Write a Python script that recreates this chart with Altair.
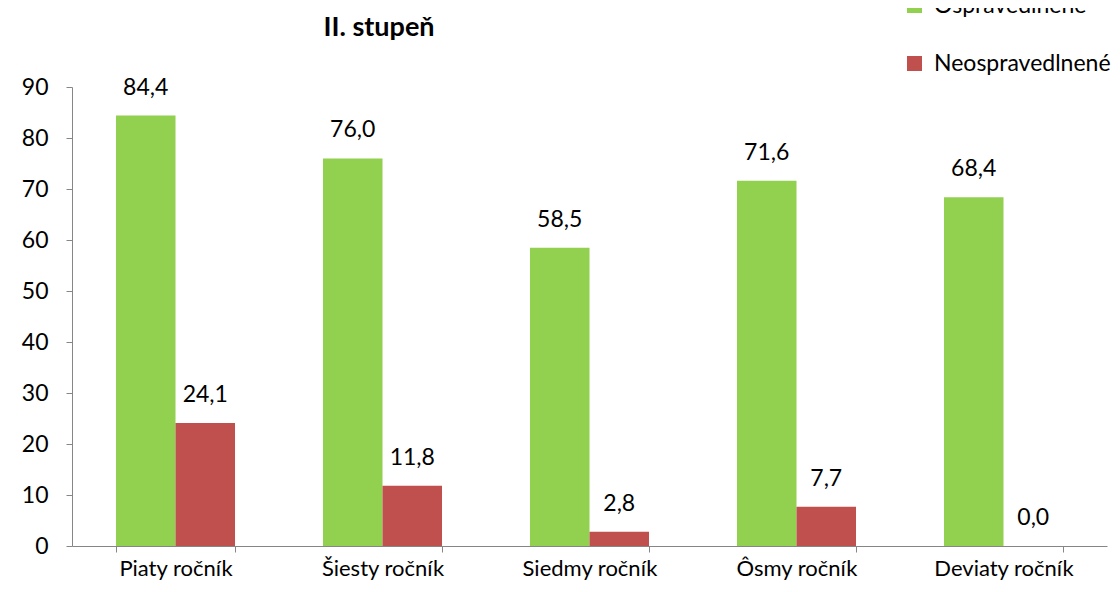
import altair as alt
import pandas as pd

categories = ["Piaty ročník", "Šiesty ročník", "Siedmy ročník", "Ôsmy ročník", "Deviaty ročník"]
series = ["Ospravedlnené", "Neospravedlnené"]
ospravedlnene = [84.4, 76.0, 58.5, 71.6, 68.4]
neospravedlnene = [24.1, 11.8, 2.8, 7.7, 0.0]
colors = ["#92D050", "#C0504D"]
y_ticks = [0, 10, 20, 30, 40, 50, 60, 70, 80, 90]
title_text = "II. stupeň"

rows = []
for c, a, b in zip(categories, ospravedlnene, neospravedlnene):
    rows.append({"cat": c, "series": series[0], "value": a, "label": f"{a:.1f}".replace(".", ",")})
    rows.append({"cat": c, "series": series[1], "value": b, "label": f"{b:.1f}".replace(".", ",")})
df = pd.DataFrame(rows)

FONT = "Lato"
FS = 23
W, H = 1035, 459

x = alt.X("cat:N", sort=categories, title=None,
          scale=alt.Scale(paddingInner=0.425, paddingOuter=0.2125),
          axis=alt.Axis(labelAngle=0, labelFontSize=22, labelFont=FONT, labelColor="#000000",
                        labelPadding=6, tickBand="extent", tickSize=6, tickColor="#868686",
                        domainColor="#868686", grid=False, labelLimit=300))
xoff = alt.XOffset("series:N", sort=series, scale=alt.Scale(paddingInner=0, paddingOuter=0))
y = alt.Y("value:Q", title=None,
          scale=alt.Scale(domain=[0, 90], nice=False, zero=True),
          axis=alt.Axis(values=y_ticks, labelFontSize=FS, labelFont=FONT, labelColor="#000000",
                        labelPadding=18, tickSize=6, tickColor="#868686", domainColor="#868686",
                        grid=False))

base = alt.Chart(df)
bars = base.mark_bar().encode(
    x=x, xOffset=xoff, y=y,
    color=alt.Color("series:N", sort=series,
                    scale=alt.Scale(domain=series, range=colors),
                    legend=alt.Legend(title=None, orient="none", legendX=831, legendY=-93,
                                      symbolType="square", symbolSize=225, symbolStrokeWidth=0,
                                      labelFontSize=FS, labelFont=FONT, labelColor="#000000",
                                      labelLimit=400, rowPadding=34, labelOffset=8)),
)
labels = base.mark_text(fontSize=FS, font=FONT, color="#000000", baseline="middle", dy=-28).encode(
    x=alt.X("cat:N", sort=categories), xOffset=xoff, y="value:Q", text="label:N"
)
title = alt.Chart(pd.DataFrame({"t": [title_text]})).mark_text(
    fontSize=27, font=FONT, fontWeight="bold", color="#000000", baseline="middle"
).encode(x=alt.value(307), y=alt.value(-59), text="t:N")

chart = (bars + labels + title).properties(
    width=W, height=H,
    padding={"left": 64, "top": 79, "right": 5, "bottom": 38},
    autosize=alt.AutoSizeParams(type="none"),
).configure_view(stroke=None)

chart.save("out.html", embed_options={"renderer": "svg", "actions": False})
